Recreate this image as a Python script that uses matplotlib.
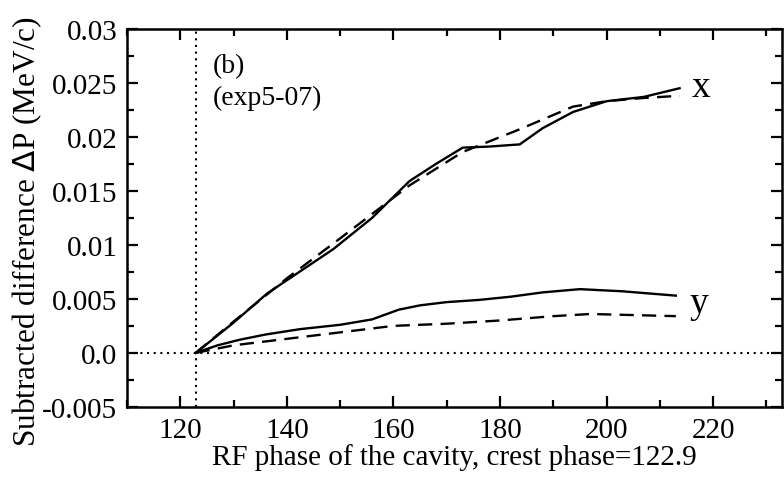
import numpy as np
import matplotlib
matplotlib.use("Agg")
import matplotlib.pyplot as plt
from matplotlib.ticker import MultipleLocator

plt.rcParams['font.family'] = ['Liberation Serif', 'DejaVu Serif']

CREST = 122.9

# horizontal momentum difference, measured (solid) and calculated (dashed)
phaseX = [122.9, 130, 136.3, 148.7, 156, 163, 168, 173, 178, 183.7, 188, 193.7, 200, 207, 213.7]
dpX = [0.0, 0.0028, 0.0055, 0.0096, 0.0125, 0.0159, 0.0175, 0.0190, 0.0191, 0.0193, 0.0208, 0.0223, 0.0233, 0.0237, 0.0245]
phaseXcalc = [122.9, 130, 140, 150, 163, 173, 183.7, 193.7, 200, 207, 213.7]
dpXcalc = [0.0, 0.0029, 0.0069, 0.0106, 0.0155, 0.0186, 0.0207, 0.0228, 0.0233, 0.0236, 0.0238]

# vertical momentum difference
phaseY = [122.9, 127, 131, 136, 142.5, 150, 156, 161, 165, 170, 176, 182, 188, 195, 203, 213]
dpY = [0.0, 0.0007, 0.0012, 0.0017, 0.0022, 0.0026, 0.0031, 0.0040, 0.0044, 0.0047, 0.0049, 0.0052, 0.0056, 0.0059, 0.0057, 0.0053]
phaseYcalc = [122.9, 130, 140, 150, 160, 170, 180, 190, 197, 205, 213]
dpYcalc = [0.0, 0.0007, 0.0013, 0.0019, 0.0025, 0.0027, 0.0030, 0.0034, 0.0036, 0.0035, 0.0034]

yticks = [-0.005, 0.0, 0.005, 0.01, 0.015, 0.02, 0.025, 0.03]
ytickLabels = ['-0.005', '0.0', '0.005', '0.01', '0.015', '0.02', '0.025', '0.03']
xticks = [120, 140, 160, 180, 200, 220]

fig = plt.figure(figsize=(7.84, 4.81), dpi=100)
ax = fig.add_axes([0.162, 0.152, 0.836, 0.786])

ax.plot(phaseX, dpX, color='black', lw=1.7)
ax.plot(phaseXcalc, dpXcalc, color='black', lw=1.7, dashes=(6, 3.5))
ax.plot(phaseY, dpY, color='black', lw=1.7)
ax.plot(phaseYcalc, dpYcalc, color='black', lw=1.7, dashes=(6, 3.5))

ax.axhline(0.0, color='black', lw=1.5, dashes=(1, 2.2))
ax.axvline(CREST, color='black', lw=1.5, dashes=(1, 2.2))

ax.text(216, 0.0246, 'x', fontsize=27, va='center', ha='left')
ax.text(215.5, 0.0046, 'y', fontsize=27, va='center', ha='left')
ax.text(0.131, 0.935, '(b)\n(exp5-07)', transform=ax.transAxes, fontsize=20,
        va='top', ha='left', linespacing=1.35)

ax.set_xlim(110, 233)
ax.set_ylim(-0.005, 0.03)
ax.set_xticks(xticks)
ax.xaxis.set_minor_locator(MultipleLocator(10))
ax.set_yticks(yticks)
ax.set_yticklabels(ytickLabels)
ax.yaxis.set_minor_locator(MultipleLocator(0.0025))

ax.tick_params(which='both', direction='in', top=True, right=True, labelsize=21, width=1.6)
ax.tick_params(which='major', length=8, pad=7)
ax.tick_params(which='minor', length=5)
for s in ax.spines.values():
    s.set_linewidth(1.8)

ax.set_xlabel('RF phase of the cavity, crest phase=122.9', fontsize=21, labelpad=0)
ax.set_ylabel('Subtracted difference $\\Delta$P (MeV/c)', fontsize=22.5)
ax.yaxis.set_label_coords(-0.127, 0.466)

fig.savefig('out.png', dpi=100)
